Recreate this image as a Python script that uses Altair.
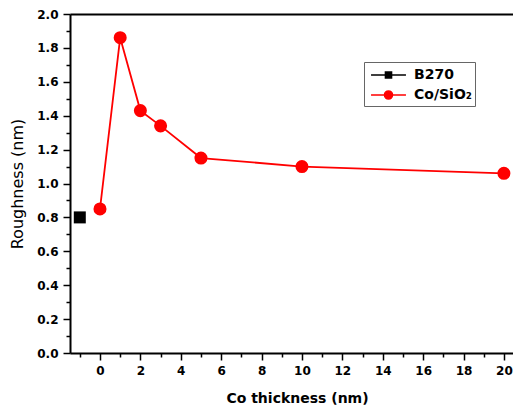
import altair as alt
import pandas as pd

# ---- data ----
co_thickness = [0, 1, 2, 3, 5, 10, 20]
co_roughness = [0.85, 1.86, 1.43, 1.34, 1.15, 1.10, 1.06]
b270_thickness = [-1]
b270_roughness = [0.80]
series_names = ["B270", "Co/SiO₂"]
series_colors = ["#000000", "#ff0000"]
x_major = [0, 2, 4, 6, 8, 10, 12, 14, 16, 18, 20]
x_minor = [-1, 1, 3, 5, 7, 9, 11, 13, 15, 17, 19]
y_major = [0.0, 0.2, 0.4, 0.6, 0.8, 1.0, 1.2, 1.4, 1.6, 1.8, 2.0]
y_minor = [0.1, 0.3, 0.5, 0.7, 0.9, 1.1, 1.3, 1.5, 1.7, 1.9]

df = pd.DataFrame({
    "thickness": b270_thickness + co_thickness,
    "roughness": b270_roughness + co_roughness,
    "series": [series_names[0]] * len(b270_thickness) + [series_names[1]] * len(co_thickness),
})

W, H = 443, 339
XDOM = [-1.485, 20.45]
YDOM = [0, 2]
FONT = "DejaVu Sans"


def xs():
    return alt.Scale(domain=XDOM, nice=False, zero=False)


def ys():
    return alt.Scale(domain=YDOM, nice=False, zero=False)


x_main = alt.X("thickness:Q", scale=xs(), axis=alt.Axis(
    values=x_major, format="d", title="Co thickness (nm)", tickSize=7,
    labelPadding=5, titlePadding=15, titleFontSize=14, titleFontWeight="bold",
    titleX=227, titleAlign="center"))
y_main = alt.Y("roughness:Q", scale=ys(), axis=alt.Axis(
    values=y_major, format=".1f", title="Roughness (nm)", tickSize=7,
    labelPadding=5, titlePadding=11, titleFontSize=16, titleFontWeight="normal"))

base = alt.Chart(df).encode(x=x_main, y=y_main)

line = base.transform_filter(alt.datum.series == series_names[1]).mark_line(
    color=series_colors[1], strokeWidth=1.8)
circles = base.transform_filter(alt.datum.series == series_names[1]).mark_circle(
    color=series_colors[1], size=170, opacity=1)
squares = base.transform_filter(alt.datum.series == series_names[0]).mark_square(
    color=series_colors[0], size=144, opacity=1)

sym_square = "M-1.94,0H1.94M-0.34,-0.34H0.34V0.34H-0.34Z"
sym_circle = ("M-1.94,0H1.94M0.45,0A0.45,0.45,0,1,1,-0.45,0"
              "A0.45,0.45,0,1,1,0.45,0Z")

leg = dict(orient="none", legendX=294, legendY=48, title=None,
           strokeColor="#666666", fillColor="white", padding=3,
           labelFont=FONT, labelFontSize=14, labelFontWeight="bold",
           labelColor="black", labelOffset=15.5, symbolOffset=11.5,
           symbolSize=324, symbolStrokeWidth=1.5, rowPadding=3)

legend_layer = base.transform_filter("false").mark_point(filled=True, opacity=1).encode(
    color=alt.Color("series:N", scale=alt.Scale(domain=series_names, range=series_colors),
                    legend=alt.Legend(**leg)),
    stroke=alt.Stroke("series:N", scale=alt.Scale(domain=series_names, range=series_colors),
                      legend=alt.Legend(**leg)),
    shape=alt.Shape("series:N", scale=alt.Scale(domain=series_names, range=[sym_square, sym_circle]),
                    legend=alt.Legend(**leg)),
)

main = alt.layer(line, circles, squares, legend_layer)

minor = alt.Chart(df).transform_filter("false").mark_point().encode(
    x=alt.X("thickness:Q", scale=xs(), axis=alt.Axis(
        orient="bottom", values=x_minor, labels=False, title=None, domain=False, tickSize=4)),
    y=alt.Y("roughness:Q", scale=ys(), axis=alt.Axis(
        orient="left", values=y_minor, labels=False, title=None, domain=False, tickSize=4)),
)

top = alt.Chart(df).transform_filter("false").mark_point().encode(
    x=alt.X("thickness:Q", scale=xs(), axis=alt.Axis(
        orient="top", labels=False, ticks=False, title=None, domain=True)),
)

chart = alt.layer(main, minor, top).resolve_scale(
    x="independent", y="independent"
).properties(
    width=W, height=H,
    autosize="none",
    padding={"left": 62, "top": 6, "right": 0, "bottom": 56},
).configure_view(stroke=None).configure_axis(
    grid=False, domainColor="black", domainWidth=2, tickColor="black", tickWidth=1.5,
    labelFont=FONT, labelFontSize=12, labelFontWeight="bold", labelColor="black",
    titleFont=FONT, titleColor="black",
)

chart.save("out.html", embed_options={"renderer": "svg", "actions": False})
